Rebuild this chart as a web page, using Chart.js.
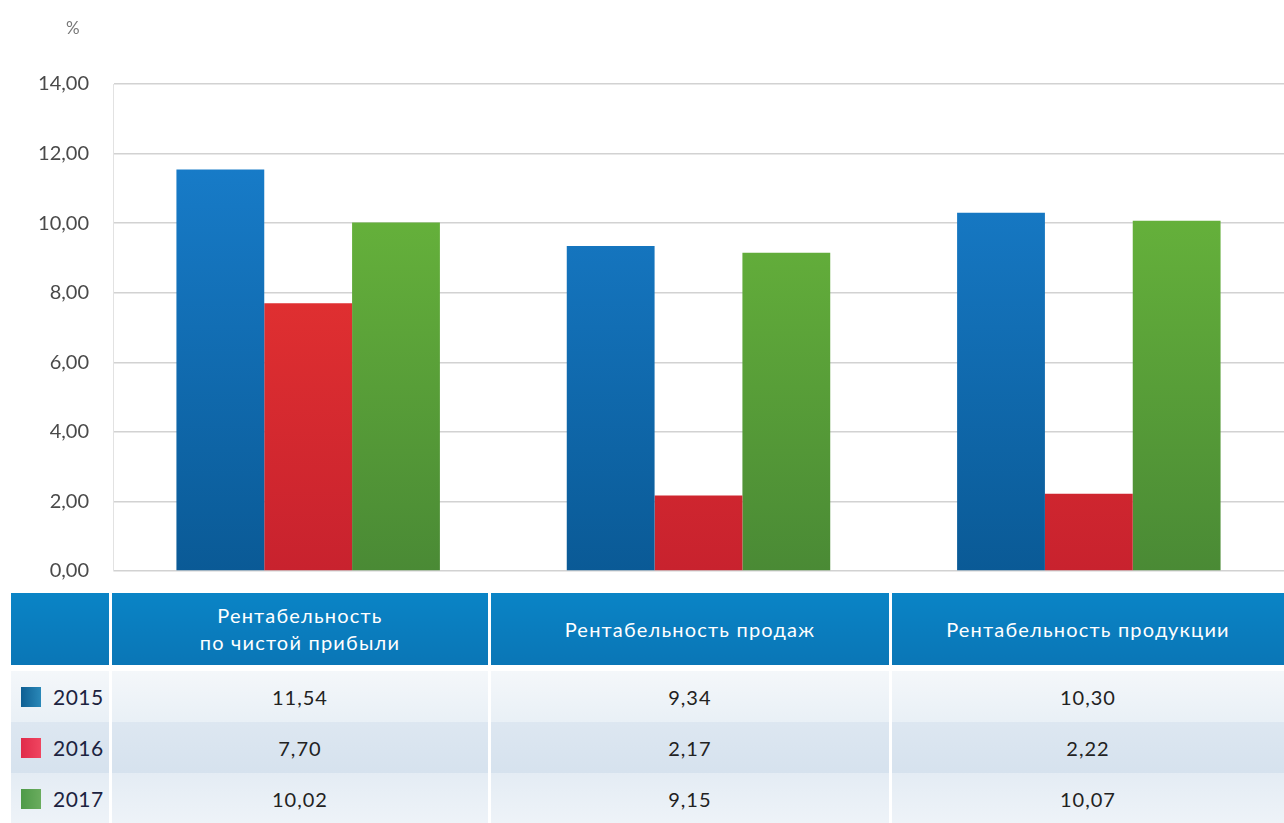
<!DOCTYPE html>
<html>
<head>
<meta charset="utf-8">
<script src="https://cdn.jsdelivr.net/npm/chart.js@4"></script>
<style>
  body { margin: 0; background: #fff; width: 1284px; height: 823px; overflow: hidden; position: relative; font-family: Lato, "Open Sans", sans-serif; }
  #wrap { position: absolute; left: 0; top: 0; width: 1284px; height: 607px; }
  #unit { position: absolute; left: 66px; top: 17px; font-size: 17px; color: #777; }
  table { position: absolute; left: 8px; top: 593px; border-collapse: separate; border-spacing: 3px 0; width: 1279px; background: #fff; }
  th { background: linear-gradient(#0a84c6, #0a76b6); color: #fff; font-weight: normal; font-size: 20px; height: 72px; letter-spacing: 1.2px; line-height: 27px; padding: 0; border-bottom: 6px solid #fff; }
  td { font-size: 20px; letter-spacing: 1px; color: #222; text-align: center; height: 51px; padding: 0; }
  tr.r0 td { background: linear-gradient(#f4f7fa, #e9f0f6); }
  tr.r1 td { background: linear-gradient(#dde7f1, #d6e2ee); }
  tr.r2 td { background: linear-gradient(#e4ecf4, #eef3f8); }
  td.yr { text-align: left; padding-left: 10px; color: #1c2340; font-size: 21px; letter-spacing: 0.5px; }
  .sw { display: inline-block; width: 20px; height: 20px; vertical-align: -2px; margin-right: 12px; }
</style>
</head>
<body>
<div id="wrap"><canvas id="myChart"></canvas></div>
<div id="unit">%</div>
<table id="tbl"></table>
<script>
var categories = ['Рентабельность по чистой прибыли', 'Рентабельность продаж', 'Рентабельность продукции'];
var headerLines = [['Рентабельность', 'по чистой прибыли'], ['Рентабельность продаж'], ['Рентабельность продукции']];
var years = ['2015', '2016', '2017'];
var values2015 = [11.54, 9.34, 10.30];
var values2016 = [7.70, 2.17, 2.22];
var values2017 = [10.02, 9.15, 10.07];
var yTicks = [0, 2, 4, 6, 8, 10, 12, 14];

var seriesValues = [values2015, values2016, values2017];
var barColors = [['#1a82d2', '#0a5a96'], ['#f23a33', '#c8222e'], ['#6fbf3d', '#4a8a35']];
var swatchColors = [['#0e5f93', '#2a88b8'], ['#e02b4a', '#f04560'], ['#4e9a48', '#6aac5e']];

function fmt(v) {
    return v.toFixed(2).replace('.', ',');
}

function gradientFor(i) {
    return function(context) {
        var area = context.chart.chartArea;
        if (!area) return barColors[i][0];
        var g = context.chart.ctx.createLinearGradient(0, area.top, 0, area.bottom);
        g.addColorStop(0, barColors[i][0]);
        g.addColorStop(1, barColors[i][1]);
        return g;
    };
}

var ctx = document.getElementById('myChart').getContext('2d');
var myChart = new Chart(ctx, {
    type: 'bar',
    data: {
        labels: categories,
        datasets: years.map(function(y, i) {
            return {
                label: y,
                data: seriesValues[i],
                backgroundColor: gradientFor(i),
                borderWidth: 0,
                barPercentage: 1,
                categoryPercentage: 0.675
            };
        })
    },
    options: {
        responsive: true,
        maintainAspectRatio: false,
        animation: false,
        layout: { padding: { top: 84, right: 0, bottom: 9, left: 0 } },
        plugins: {
            legend: { display: false },
            tooltip: { enabled: false }
        },
        scales: {
            x: {
                display: false
            },
            y: {
                min: 0,
                max: 14,
                afterBuildTicks: function(scale) {
                    scale.ticks = yTicks.map(function(v) { return { value: v }; });
                },
                afterFit: function(scale) { scale.width = 113; },
                ticks: {
                    color: '#4a4a4a',
                    padding: 24,
                    font: { family: 'Lato', size: 20 },
                    callback: function(v) { return fmt(v); }
                },
                grid: { color: '#d2d2d2', lineWidth: 1.5, drawTicks: false },
                border: { display: true, color: '#e2e2e2' }
            }
        }
    }
});

// data table below the chart
var tbl = document.getElementById('tbl');
var head = '<tr><th style="width:97px"></th>';
headerLines.forEach(function(lines, j) {
    var w = [372, 394, 388][j];
    head += '<th style="width:' + w + 'px">' + lines.join('<br>') + '</th>';
});
head += '</tr>';
var body = '';
years.forEach(function(y, i) {
    body += '<tr class="r' + i + '"><td class="yr"><span class="sw" style="background:linear-gradient(90deg,' +
        swatchColors[i][0] + ',' + swatchColors[i][1] + ')"></span>' + y + '</td>';
    seriesValues[i].forEach(function(v) { body += '<td>' + fmt(v) + '</td>'; });
    body += '</tr>';
});
tbl.innerHTML = head + body;
</script>
</body>
</html>
